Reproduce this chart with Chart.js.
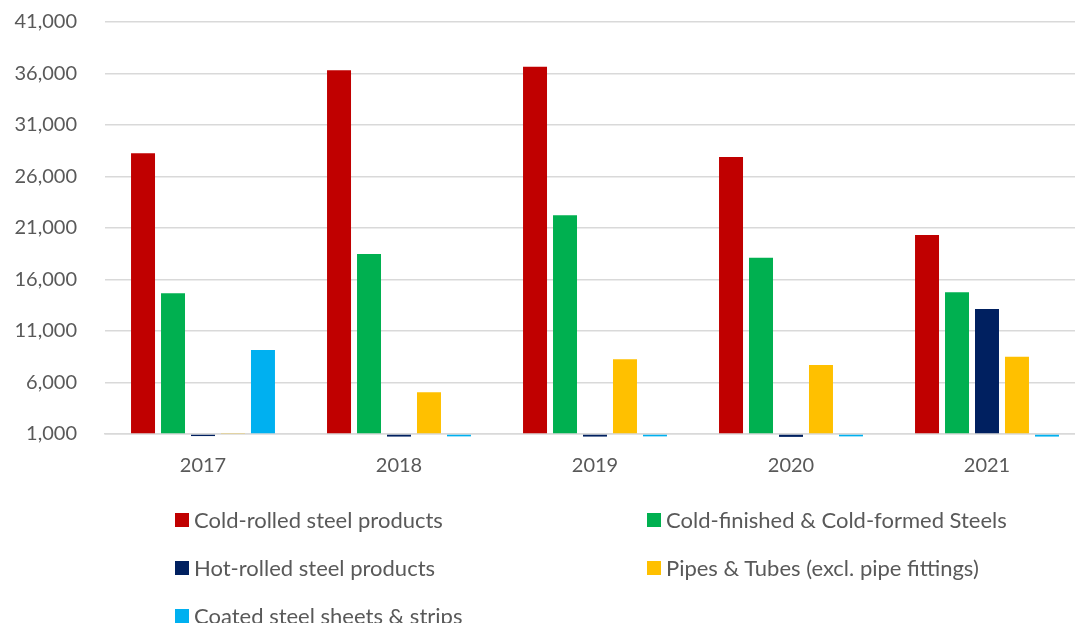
<!DOCTYPE html>
<html>
<head>
<meta charset="utf-8">
<script src="https://cdn.jsdelivr.net/npm/chart.js"></script>
<style>
  html, body { margin: 0; padding: 0; background: #fff; overflow: hidden; }
  body { width: 1075px; height: 623px; position: relative; font-family: Lato, "Liberation Sans", sans-serif; }
  #wrap { position: absolute; left: 0; top: 0; width: 1085px; height: 480px; }
  #legend { position: absolute; left: 0; top: 0; width: 1075px; height: 623px; pointer-events: none; }
  .lg-item { position: absolute; display: flex; align-items: center; color: #595959; font-size: 22px; white-space: nowrap; line-height: 1; }
  .lg-box { width: 14px; height: 14px; margin-right: 5px; flex: none; }
</style>
</head>
<body>
<div id="wrap"><canvas id="c" width="1085" height="480"></canvas></div>
<div id="legend"></div>
<script>
(() => {
  var YEARS = ["2017", "2018", "2019", "2020", "2021"];
  var SERIES = [
    "Cold-rolled steel products",
    "Cold-finished & Cold-formed Steels",
    "Hot-rolled steel products",
    "Pipes & Tubes (excl. pipe fittings)",
    "Coated steel sheets & strips"
  ];
  var COLD_ROLLED = [28250, 36310, 36660, 27890, 20320];
  var COLD_FINISHED = [14660, 18480, 22230, 18120, 14760];
  var HOT_ROLLED = [800, 750, 750, 720, 13140];
  var PIPES = [1100, 5050, 8250, 7700, 8510];
  var COATED = [9160, 770, 770, 770, 750];
  var COLORS = ["#c00000", "#00b050", "#002060", "#ffc000", "#00b0f0"];
  var Y_MIN = 1000, Y_MAX = 41000, Y_STEP = 5000;

  var values = [COLD_ROLLED, COLD_FINISHED, HOT_ROLLED, PIPES, COATED];
  var datasets = SERIES.map(function (name, i) {
    return {
      label: name,
      data: values[i],
      backgroundColor: COLORS[i],
      borderWidth: 0,
      base: Y_MIN,
      categoryPercentage: 0.765,
      barPercentage: 0.8,
      clip: false
    };
  });

  var chart = new Chart(document.getElementById("c"), {
    type: "bar",
    data: { labels: YEARS, datasets: datasets },
    options: {
      responsive: false,
      animation: false,
      layout: { padding: 0 },
      plugins: { legend: { display: false }, tooltip: { enabled: false } },
      scales: {
        x: {
          grid: { display: false, drawTicks: false },
          border: { display: true, color: "#d9d9d9", width: 1.5 },
          ticks: { color: "#595959", font: { family: "Lato", size: 20 }, padding: 20 },
          afterFit: function (s) { s.height = 46; }
        },
        y: {
          min: Y_MIN,
          max: Y_MAX,
          ticks: {
            stepSize: Y_STEP,
            color: "#595959",
            font: { family: "Lato", size: 20 },
            padding: 28,
            callback: function (v) { return Number(v).toLocaleString("en-US"); }
          },
          grid: { color: "#d9d9d9", lineWidth: 1.5, drawTicks: false },
          border: { display: false },
          afterFit: function (s) {
            s.width = 105;
            s.paddingTop = 22;
            s.paddingBottom = 12;
          }
        }
      }
    }
  });

  // legend in two columns, built from the chart datasets
  var cols = [175, 647];
  var rows = [520, 568, 616];
  var lg = document.getElementById("legend");
  chart.data.datasets.forEach(function (ds, i) {
    var it = document.createElement("div");
    it.className = "lg-item";
    it.style.left = cols[i % 2] + "px";
    it.style.top = (rows[Math.floor(i / 2)] - 11) + "px";
    it.style.height = "22px";
    it.innerHTML = '<span class="lg-box" style="background:' + ds.backgroundColor + '"></span><span></span>';
    it.lastChild.textContent = ds.label;
    lg.appendChild(it);
  });
})();
</script>
</body>
</html>
